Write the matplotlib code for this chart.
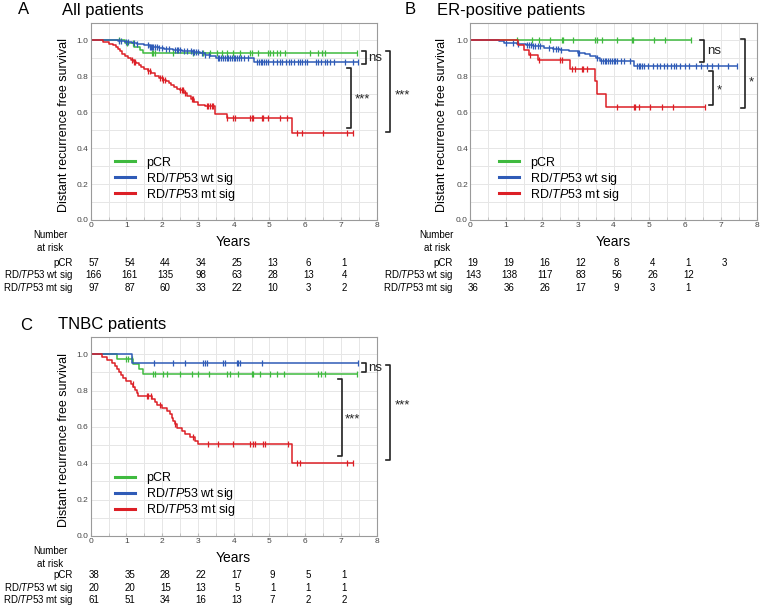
import matplotlib.pyplot as plt
import numpy as np

plt.rcParams['font.family'] = ['Liberation Sans', 'DejaVu Sans']
plt.rcParams['mathtext.fontset'] = 'custom'
plt.rcParams['mathtext.rm'] = 'Liberation Sans'
plt.rcParams['mathtext.it'] = 'Liberation Sans:italic'

GREEN = '#3fba3f'
BLUE = '#2f5bb7'
RED = '#dc1f26'
colors = [GREEN, BLUE, RED]

groups = ['pCR', r'RD/$\mathit{TP53}$ wt sig', r'RD/$\mathit{TP53}$ mt sig']

# ---------------- A: all patients ----------------
a_pcr_t = [0.95, 1.2, 1.38, 1.45]
a_pcr_s = [0.982, 0.964, 0.945, 0.928]
a_pcr_end = 7.44
a_pcr_cens = [0.8, 1.01, 1.19, 1.71, 1.75, 1.8, 2.31, 2.87, 3.15, 3.34, 3.52, 3.66, 3.8,
              3.99, 4.18, 4.46, 4.5, 4.69, 4.97, 5.01, 5.11, 5.2, 5.3, 5.44, 6.14, 6.37,
              6.46, 6.56, 7.44]

a_wt_t = [0.75, 0.95, 1.15, 1.3, 1.5, 1.65, 1.9, 2.05, 2.3, 2.55, 2.85, 3.05, 3.2, 3.35,
          3.5, 4.57]
a_wt_s = [0.994, 0.988, 0.982, 0.976, 0.97, 0.964, 0.958, 0.952, 0.946, 0.94, 0.933,
          0.926, 0.919, 0.911, 0.903, 0.876]
a_wt_end = 7.49
a_wt_cens = [0.78, 0.85, 1.0, 1.05, 1.2, 1.3, 1.6, 1.65, 1.7, 1.72, 1.75, 1.8, 1.85, 1.9,
             2.0, 2.1, 2.2, 2.35, 2.4, 2.45, 2.5, 2.6, 2.7, 2.8, 2.85, 2.9, 2.95, 3.0,
             3.1, 3.2, 3.3, 3.55, 3.6, 3.65, 3.7, 3.75, 3.8, 3.85, 3.9, 3.95, 4.0, 4.05,
             4.1, 4.15, 4.2, 4.3, 4.4, 4.65, 4.7, 4.75, 4.8, 4.85, 4.9, 4.95, 5.1, 5.2,
             5.3, 5.35, 5.45, 5.55, 5.6, 5.7, 5.8, 5.85, 5.9, 6.0, 6.05, 6.3, 6.35, 6.45,
             6.55, 6.6, 6.7, 6.8, 7.1, 7.35, 7.49]

a_mt_t = [0.35, 0.5, 0.62, 0.7, 0.76, 0.82, 0.88, 0.95, 1.05, 1.12, 1.2, 1.28, 1.35, 1.42,
          1.5, 1.6, 1.7, 1.8, 1.92, 2.02, 2.1, 2.18, 2.26, 2.34, 2.42, 2.5, 2.6, 2.7,
          2.8, 2.9, 3.0, 3.2, 3.48, 3.8, 5.63]
a_mt_s = [0.99, 0.98, 0.97, 0.96, 0.95, 0.94, 0.925, 0.91, 0.9, 0.89, 0.88, 0.87, 0.86,
          0.85, 0.84, 0.83, 0.815, 0.8, 0.79, 0.78, 0.77, 0.76, 0.75, 0.74, 0.73, 0.72,
          0.705, 0.69, 0.67, 0.655, 0.64, 0.633, 0.59, 0.565, 0.485]
a_mt_end = 7.35
a_mt_cens = [1.15, 1.2, 1.24, 1.61, 1.66, 1.94, 1.99, 2.03, 2.08, 2.5, 2.55, 2.59, 2.64,
             2.83, 2.87, 3.24, 3.29, 3.34, 3.38, 3.43, 3.8, 3.99, 4.04, 4.46, 4.5, 4.55,
             4.78, 4.83, 4.97, 5.3, 5.48, 5.76, 5.9, 6.5, 7.16, 7.35]

a_risk = [[57, 54, 44, 34, 25, 13, 6, 1],
          [166, 161, 135, 98, 63, 28, 13, 4],
          [97, 87, 60, 33, 22, 10, 3, 2]]

# ---------------- B: ER-positive ----------------
b_pcr_t = []
b_pcr_s = []
b_pcr_end = 6.15
b_pcr_cens = [1.3, 1.72, 1.91, 2.23, 2.56, 2.6, 2.88, 3.49, 3.53, 3.67, 4.09, 4.51, 4.54,
              5.12, 5.44, 6.15]

b_wt_t = [0.82, 0.95, 1.3, 1.55, 1.75, 2.05, 2.3, 2.5, 2.75, 3.0, 3.2, 3.35, 3.5, 3.62,
          4.58]
b_wt_s = [0.993, 0.986, 0.979, 0.972, 0.965, 0.958, 0.951, 0.944, 0.937, 0.93, 0.92,
          0.91, 0.9, 0.883, 0.857]
b_wt_end = 7.44
b_wt_cens = [1.0, 1.2, 1.35, 1.6, 1.65, 1.7, 1.75, 1.8, 1.9, 1.95, 2.2, 2.3, 2.4, 2.45,
             2.55, 3.0, 3.05, 3.55, 3.65, 3.7, 3.75, 3.8, 3.85, 3.9, 3.95, 4.0, 4.05, 4.1,
             4.2, 4.3, 4.45, 4.65, 4.7, 4.75, 4.8, 4.85, 4.95, 5.1, 5.2, 5.3, 5.4, 5.5,
             5.6, 5.7, 5.75, 5.85, 6.0, 6.1, 6.3, 6.45, 6.6, 6.75, 6.9, 7.2, 7.44]

b_mt_t = [1.35, 1.5, 1.65, 1.9, 2.8, 3.48, 3.54, 3.8]
b_mt_s = [0.972, 0.944, 0.917, 0.889, 0.84, 0.77, 0.70, 0.63]
b_mt_end = 6.56
b_mt_cens = [1.67, 1.91, 2.51, 2.56, 2.84, 2.93, 3.12, 3.16, 3.26, 4.09, 4.56, 4.6, 4.7,
             5.02, 5.35, 5.67, 6.56]

b_risk = [[19, 19, 16, 12, 8, 4, 1, 3],
          [143, 138, 117, 83, 56, 26, 12],
          [36, 36, 26, 17, 9, 3, 1]]

# ---------------- C: TNBC ----------------
c_pcr_t = [0.73, 1.17, 1.36, 1.47]
c_pcr_s = [0.974, 0.947, 0.921, 0.894]
c_pcr_end = 7.44
c_pcr_cens = [1.0, 1.05, 1.15, 1.75, 1.8, 2.03, 2.13, 2.5, 2.83, 3.0, 3.3, 3.8, 3.9, 4.13,
              4.5, 4.55, 4.74, 5.02, 5.2, 5.4, 6.37, 6.45, 6.55, 7.44]

c_wt_t = [1.15]
c_wt_s = [0.95]
c_wt_end = 7.49
c_wt_cens = [1.78, 2.31, 2.64, 3.15, 3.2, 3.24, 3.71, 3.75, 4.08, 4.13, 4.17, 4.78, 7.49]

c_mt_t = [0.31, 0.45, 0.59, 0.68, 0.73, 0.8, 0.84, 0.91, 0.99, 1.13, 1.19, 1.24, 1.29,
          1.33, 1.71, 1.8, 1.85, 1.99, 2.13, 2.22, 2.27, 2.31, 2.36, 2.41, 2.55, 2.64,
          2.78, 2.92, 3.01, 5.62]
c_mt_s = [0.984, 0.967, 0.95, 0.934, 0.918, 0.9, 0.885, 0.869, 0.852, 0.836, 0.82, 0.803,
          0.787, 0.77, 0.754, 0.737, 0.72, 0.704, 0.687, 0.67, 0.652, 0.634, 0.616,
          0.597, 0.579, 0.561, 0.542, 0.524, 0.505, 0.404]
c_mt_end = 7.35
c_mt_cens = [1.17, 1.57, 1.61, 1.7, 1.94, 2.36, 2.87, 3.29, 3.57, 3.99, 4.46, 4.55, 4.6,
             4.83, 4.87, 5.53, 5.76, 5.86, 7.16, 7.35]

c_risk = [[38, 35, 28, 22, 17, 9, 5, 1],
          [20, 20, 15, 13, 5, 1, 1, 1],
          [61, 51, 34, 16, 13, 7, 2, 2]]


def km(ax, t, s, end, cens, color):
    t = np.asarray(t, float)
    s_full = np.r_[1.0, np.asarray(s, float)]
    tt = np.r_[0.0, t, end]
    ss = np.r_[s_full, s_full[-1]]
    ax.step(tt, ss, where='post', color=color, lw=1.1)
    idx = np.searchsorted(t, cens, side='right')
    ax.plot(cens, s_full[idx], ls='none', marker='|', ms=3.8, mew=0.9, color=color)


def bracket(ax, x, y0, y1, text, tx, ty, w=0.11):
    ax.plot([x - w, x, x, x - w], [y1, y1, y0, y0], color='#222222', lw=1.2,
            clip_on=False)
    ax.text(tx, ty, text, ha='left', va='center', fontsize=9.5, color='#222222',
            clip_on=False)


def setup(ax):
    ax.set_xlim(0, 8)
    ax.set_ylim(0, 1.095)
    ax.set_xticks(np.arange(0, 9))
    ax.set_xticks(np.arange(0, 8.5, 0.5), minor=True)
    ax.set_yticks(np.arange(0, 1.01, 0.2))
    ax.set_yticks(np.arange(0, 1.05, 0.1), minor=True)
    ax.set_yticklabels(['%.1f' % v for v in np.arange(0, 1.01, 0.2)])
    ax.grid(True, which='both', color='#e6e6e6', lw=0.7)
    ax.set_axisbelow(True)
    for sp in ax.spines.values():
        sp.set_color('#9a9a9a')
    ax.tick_params(which='both', length=0, labelsize=6, colors='#444444', pad=1.5)
    ax.tick_params(axis='x', which='both', length=2, direction='in', color='#bbbbbb')
    ax.set_ylabel('Distant recurrence free survival', fontsize=9, labelpad=4)


def risk_table(ax, rows, lab_x, num_x, first=43, step=12.5, px_to_pt=0.72):
    ax.annotate('Years', xy=(4, 0), xycoords=('data', 'axes fraction'),
                xytext=(0, -22 * px_to_pt), textcoords='offset points',
                ha='center', va='center', fontsize=10, annotation_clip=False)
    ax.annotate('Number\nat risk', xy=(num_x, 0), xycoords=('data', 'axes fraction'),
                xytext=(0, -21.5 * px_to_pt), textcoords='offset points',
                ha='center', va='center', fontsize=7, linespacing=1.3,
                annotation_clip=False)
    for k, vals in enumerate(rows):
        yoff = -(first + step * k) * px_to_pt
        ax.annotate(groups[k], xy=(lab_x, 0), xycoords=('data', 'axes fraction'),
                    xytext=(0, yoff), textcoords='offset points', ha='right',
                    va='center', fontsize=7, annotation_clip=False)
        for j, v in enumerate(vals):
            ax.annotate(str(v), xy=(j + 0.09, 0), xycoords=('data', 'axes fraction'),
                        xytext=(0, yoff), textcoords='offset points', ha='center',
                        va='center', fontsize=7, annotation_clip=False)


fig = plt.figure(figsize=(7.62, 6.09), dpi=100)
W, H = 762.0, 609.0
axA = fig.add_axes([90.7 / W, 1 - 220 / H, 286 / W, 197 / H])
axB = fig.add_axes([470 / W, 1 - 220 / H, 287 / W, 197 / H])
axC = fig.add_axes([90.7 / W, 1 - 536 / H, 286 / W, 199 / H])

panels = [
    (axA, [(a_pcr_t, a_pcr_s, a_pcr_end, a_pcr_cens),
           (a_wt_t, a_wt_s, a_wt_end, a_wt_cens),
           (a_mt_t, a_mt_s, a_mt_end, a_mt_cens)], a_risk),
    (axB, [(b_pcr_t, b_pcr_s, b_pcr_end, b_pcr_cens),
           (b_wt_t, b_wt_s, b_wt_end, b_wt_cens),
           (b_mt_t, b_mt_s, b_mt_end, b_mt_cens)], b_risk),
    (axC, [(c_pcr_t, c_pcr_s, c_pcr_end, c_pcr_cens),
           (c_wt_t, c_wt_s, c_wt_end, c_wt_cens),
           (c_mt_t, c_mt_s, c_mt_end, c_mt_cens)], c_risk),
]

legend_labels = [r'$\mathrm{pCR}$', groups[1], groups[2]]
for ax, curves, risk in panels:
    setup(ax)
    handles = []
    for (t, s, end, cens), col in zip(curves, colors):
        km(ax, t, s, end, cens, col)
        handles.append(plt.Line2D([], [], color=col, lw=2.2))
    ax.legend(handles, legend_labels, loc='center left', frameon=False, fontsize=9,
              handlelength=1.6, handletextpad=0.9, labelspacing=0.0, borderpad=0,
              borderaxespad=0,
              bbox_to_anchor=(0.085 if ax is not axB else 0.1, 0.21))

axA.yaxis.set_label_coords(-0.072, 0.48)
axB.yaxis.set_label_coords(-0.077, 0.48)
axC.yaxis.set_label_coords(-0.072, 0.48)

risk_table(axA, a_risk, -0.5, -1.14)
risk_table(axB, b_risk, -0.47, -0.93)
risk_table(axC, c_risk, -0.5, -1.14, first=39, step=12.7)

# significance brackets
bracket(axA, 7.69, 0.867, 0.94, 'ns', 7.76, 0.9)
bracket(axA, 7.27, 0.513, 0.843, '***', 7.38, 0.67)
bracket(axA, 8.37, 0.49, 0.94, '***', 8.5, 0.69)

bracket(axB, 6.53, 0.88, 1.0, 'ns', 6.6, 0.94)
bracket(axB, 6.77, 0.64, 0.83, '*', 6.87, 0.72)
bracket(axB, 7.67, 0.624, 1.004, '*', 7.76, 0.765)

bracket(axC, 7.69, 0.902, 0.952, 'ns', 7.76, 0.925)
bracket(axC, 7.02, 0.44, 0.865, '***', 7.11, 0.64)
bracket(axC, 8.37, 0.42, 0.943, '***', 8.5, 0.72)

# panel titles
fig.text(18 / W, 1 - 10 / H, 'A', fontsize=12, ha='left', va='center')
fig.text(62 / W, 1 - 10 / H, 'All patients', fontsize=12, ha='left', va='center')
fig.text(405 / W, 1 - 10 / H, 'B', fontsize=12, ha='left', va='center')
fig.text(437 / W, 1 - 10 / H, 'ER-positive patients', fontsize=12, ha='left', va='center')
fig.text(20 / W, 1 - 325 / H, 'C', fontsize=12, ha='left', va='center')
fig.text(58 / W, 1 - 325 / H, 'TNBC patients', fontsize=12, ha='left', va='center')

fig.savefig('out.png', dpi=100)
